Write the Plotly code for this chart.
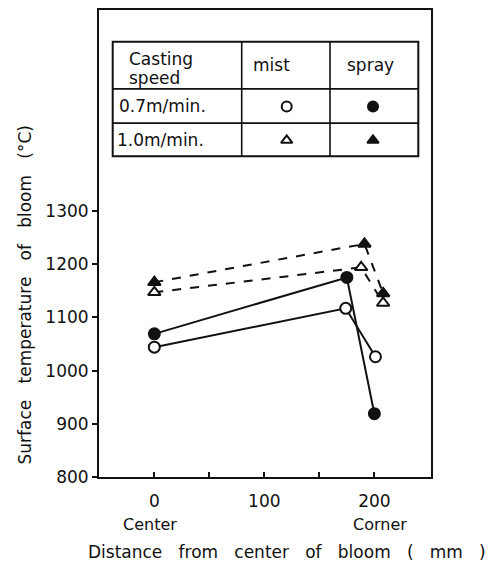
import plotly.graph_objects as go

# Data (distance from center in mm, surface temperature in deg C)
mist07_x = [0, 174, 201]
mist07_y = [1044, 1117, 1026]
spray07_x = [0, 175, 200]
spray07_y = [1069, 1175, 919]
mist10_x = [0, 188, 208]
mist10_y = [1147, 1194, 1127]
spray10_x = [0, 191, 208]
spray10_y = [1166, 1238, 1145]

x_tickvals = [0, 50, 100, 150, 200]
x_ticktext = ["0", "", "100", "", "200"]
y_tickvals = [800, 900, 1000, 1100, 1200, 1300]
y_ticktext = ["800", "900", "1000", "1100", "1200", "1300"]

FONT = "DejaVu Sans"
BLACK = "#111111"
NB = "\u00a0"

fig = go.Figure()

def add(x, y, symbol, filled, dash):
    fig.add_trace(go.Scatter(
        x=x, y=y, mode="lines+markers",
        line=dict(color=BLACK, width=2, dash=dash),
        marker=dict(symbol=symbol, size=11, color=BLACK if filled else "white",
                    line=dict(color=BLACK, width=2)),
        showlegend=False, cliponaxis=False))

add(mist07_x, mist07_y, "circle", False, "solid")
add(spray07_x, spray07_y, "circle", True, "solid")
add(mist10_x, mist10_y, "triangle-up", False, "dash")
add(spray10_x, spray10_y, "triangle-up", True, "dash")

# Table (legend) geometry in pixels -> paper
L, R, T, B = 99, 431, 8, 477.5
def px(X):
    return (X - L) / (R - L)
def py(Y):
    return (B - Y) / (B - T)

shapes = []
tx = [112.7, 241.7, 330, 418.3]
ty = [40, 87.3, 121.7, 155]
shapes.append(dict(type="rect", xref="paper", yref="paper", x0=px(tx[0]), x1=px(tx[3]),
                   y0=py(ty[3]), y1=py(ty[0]), line=dict(color=BLACK, width=2)))
for xv in tx[1:3]:
    shapes.append(dict(type="line", xref="paper", yref="paper", x0=px(xv), x1=px(xv),
                       y0=py(ty[3]), y1=py(ty[0]), line=dict(color=BLACK, width=1.6)))
for yv in ty[1:3]:
    shapes.append(dict(type="line", xref="paper", yref="paper", x0=px(tx[0]), x1=px(tx[3]),
                       y0=py(yv), y1=py(yv), line=dict(color=BLACK, width=1.6)))

ann = []
def text(X, Y, s, size=17, xanchor="center"):
    ann.append(dict(x=px(X), y=py(Y), xref="paper", yref="paper", text=s, showarrow=False,
                    xanchor=xanchor, yanchor="middle", font=dict(family=FONT, size=size, color=BLACK)))

text(127, 57, "Casting", xanchor="left")
text(127, 76, "speed", xanchor="left")
text(271.7, 63, "mist")
text(370, 63, "spray")
text(117, 105, "0.7m/min.", xanchor="left")
text(115, 139, "1.0m/min.", xanchor="left")

# legend symbols
fig.add_trace(go.Scatter(
    x=[px(286.7), px(373), px(286.7), px(373)], y=[py(105), py(105), py(139), py(139)],
    xaxis="x2", yaxis="y2", mode="markers",
    marker=dict(symbol=["circle", "circle", "triangle-up", "triangle-up"], size=10,
                color=["white", BLACK, "white", BLACK], line=dict(color=BLACK, width=2)),
    showlegend=False))

# Center / Corner labels
ann.append(dict(x=0, y=0, xref="x", yref="paper", yshift=-47, yanchor="middle", text="Center",
                showarrow=False, xshift=-4, font=dict(family=FONT, size=16, color=BLACK)))
ann.append(dict(x=200, y=0, xref="x", yref="paper", yshift=-47, yanchor="middle", text="Corner",
                showarrow=False, xshift=6, font=dict(family=FONT, size=16, color=BLACK)))
# axis titles
sp = NB * 3
ann.append(dict(x=px(287), y=py(553), xref="paper", yref="paper", yanchor="middle",
                text=sp.join(["Distance", "from", "center", "of", "bloom", "(", "mm", ")"]),
                showarrow=False, font=dict(family=FONT, size=17, color=BLACK)))
ann.append(dict(x=px(25), y=py(295), xref="paper", yref="paper", textangle=-90,
                xanchor="center", yanchor="middle",
                text=sp.join(["Surface", "temperature", "of", "bloom", "(°C)"]),
                showarrow=False, font=dict(family=FONT, size=17, color=BLACK)))

fig.update_layout(
    width=490, height=568,
    margin=dict(l=L, r=490 - R, t=T, b=568 - B),
    paper_bgcolor="white", plot_bgcolor="white",
    shapes=shapes, annotations=ann,
    xaxis=dict(range=[-50.3, 251.5], tickvals=x_tickvals, ticktext=x_ticktext,
               ticks="inside", ticklen=5, tickcolor=BLACK, tickwidth=1.5,
               ticklabelstandoff=8,
               showline=True, linecolor=BLACK, linewidth=2, mirror=True,
               showgrid=False, zeroline=False,
               tickfont=dict(family=FONT, size=17, color=BLACK)),
    yaxis=dict(range=[800, 1677.6], tickvals=y_tickvals, ticktext=y_ticktext,
               ticks="outside", ticklen=5, tickcolor=BLACK, tickwidth=1.5,
               showline=True, linecolor=BLACK, linewidth=2, mirror=True,
               showgrid=False, zeroline=False,
               tickfont=dict(family=FONT, size=17, color=BLACK)),
    xaxis2=dict(range=[0, 1], overlaying="x", visible=False),
    yaxis2=dict(range=[0, 1], overlaying="y", visible=False),
)

fig.write_html("out.html")
